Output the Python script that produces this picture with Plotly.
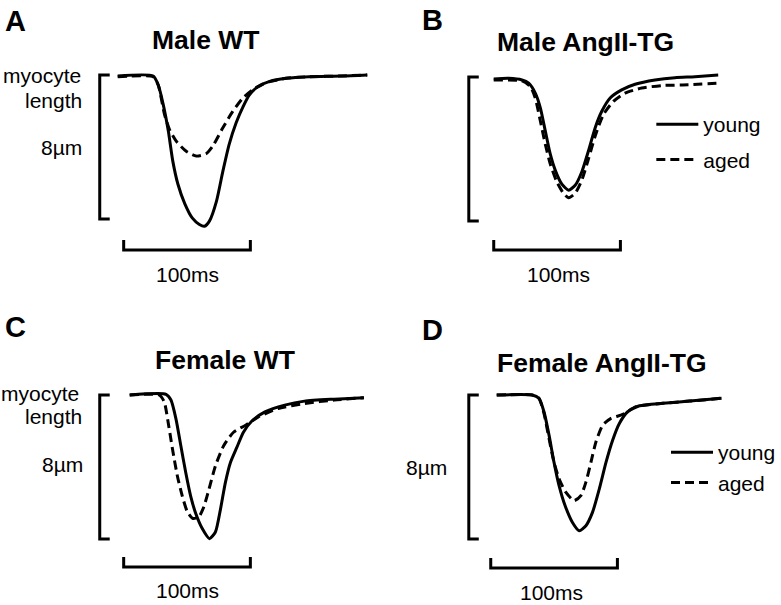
import plotly.graph_objects as go

W, H = 781, 605

# ---------------- data: time (ms from trace start), length change (µm) ----------------
a_young_t = [0, 28, 32, 36, 40, 43.5, 47.5, 53, 59, 64.5, 68.5, 72.5, 78, 83, 88, 93.5, 99, 104, 110.5, 120, 133, 151, 177, 197]
a_young_L = [0, 0, -0.5, -1.6, -3.07, -4.73, -6.0, -7.1, -7.9, -8.25, -8.35, -8.05, -6.95, -5.3, -3.8, -2.6, -1.7, -1.05, -0.6, -0.3, -0.13, -0.04, 0, 0.06]
a_aged_t = [0, 28, 32, 37, 40.9, 46.2, 54.1, 62, 69.8, 75, 82.9, 90.8, 98.7, 106.5, 114.4, 120, 133, 151, 177, 197]
a_aged_L = [-0.04, -0.04, -0.5, -2.15, -2.98, -3.62, -4.18, -4.45, -4.32, -3.9, -2.89, -1.97, -1.23, -0.77, -0.46, -0.31, -0.13, -0.04, 0, 0.06]

b_young_t = [0, 11.8, 22.3, 27.6, 32.8, 36.8, 40.7, 44.6, 48.6, 53.8, 59.1, 64.3, 69.5, 74.8, 80.1, 85.3, 91.9, 101, 111.6, 127.3, 143.1, 158.8, 177.2]
b_young_L = [-0.05, -0.02, -0.11, -0.29, -0.84, -1.66, -2.94, -4.22, -5.13, -5.9, -6.23, -5.96, -5.22, -4.04, -2.76, -1.85, -1.11, -0.66, -0.35, -0.11, 0.02, 0.07, 0.16]
b_aged_t = [0, 22.3, 29, 32.8, 36.8, 40.7, 44.6, 49.8, 55.1, 59.1, 64.3, 69.5, 74.8, 80.1, 86.6, 94.5, 103.7, 116.8, 132.6, 153.5, 177.2]
b_aged_L = [-0.11, -0.16, -0.48, -1.11, -2.39, -3.67, -4.77, -5.77, -6.41, -6.65, -6.41, -5.68, -4.49, -3.22, -2.03, -1.3, -0.84, -0.56, -0.42, -0.38, -0.29]

c_young_t = [0, 28.7, 32.6, 36.5, 40.4, 44.3, 48.2, 52.1, 57.3, 63, 67.7, 71.6, 75.5, 79.5, 84.6, 89.8, 96.3, 106.8, 122.4, 138, 161.5, 184.9]
c_young_L = [0, 0.04, -0.28, -1.31, -2.82, -4.32, -5.63, -6.57, -7.42, -7.98, -7.61, -6.38, -4.88, -3.76, -2.91, -2.07, -1.46, -0.94, -0.56, -0.34, -0.23, -0.15]
c_aged_t = [0, 23.4, 27.3, 29.9, 33.8, 37.7, 41.6, 45.5, 50, 54.7, 58.6, 62.5, 67.7, 74.2, 82, 91.2, 101.6, 117.2, 138, 161.5, 184.9]
c_aged_L = [0, 0, -0.38, -1.31, -3.0, -4.51, -5.63, -6.48, -6.86, -6.76, -6.2, -5.26, -3.94, -2.82, -2.07, -1.69, -1.22, -0.75, -0.47, -0.28, -0.15]

d_young_t = [0, 28, 33.3, 37.3, 41.3, 45.2, 49.2, 54, 59.8, 65.1, 70.4, 75.6, 81, 86.3, 91.5, 96.8, 103.4, 112.7, 131.2, 152.4, 177.5]
d_young_L = [0, 0, -0.18, -0.93, -2.23, -3.73, -5.03, -6.15, -7.08, -7.54, -7.26, -6.52, -5.21, -3.73, -2.51, -1.58, -0.93, -0.6, -0.46, -0.34, -0.18]
d_aged_t = [0, 28, 33.3, 37.3, 41.3, 45.2, 49.2, 54.5, 61.1, 66.4, 70.4, 74.4, 78.3, 83.6, 90.2, 99.4, 110, 131.2, 152.4, 177.5]
d_aged_L = [0, 0, -0.18, -1.02, -2.42, -3.73, -4.65, -5.4, -5.87, -5.59, -4.84, -3.73, -2.61, -1.68, -1.3, -1.08, -0.65, -0.46, -0.34, -0.18]

panel_letters = ["A", "B", "C", "D"]
panel_titles = ["Male WT", "Male AngII-TG", "Female WT", "Female AngII-TG"]
series_names = ["young", "aged"]
SCALE_MS = 100      # horizontal scale bar
SCALE_UM = 8        # vertical scale bar
time_label = "100ms"
len_label = "8µm"

# ---------------- layout geometry (pixels) ----------------
SX = 1.27   # px per ms
SY = 18.0   # px per µm
FONT = "Liberation Sans, Arial, Helvetica, sans-serif"
FS = 21     # label font size
FT = 26.5   # title font size

panels = [
    dict(px0=118, py0=76, vbx=100, vby=75, hbx=124, hby=250),
    dict(px0=495, py0=78, vbx=470, vby=77, hbx=495, hby=250),
    dict(px0=130, py0=395, vbx=100, vby=395, hbx=124, hby=567),
    dict(px0=498, py0=395, vbx=470, vby=395, hbx=492, hby=568),
]
data = [
    (a_young_t, a_young_L, a_aged_t, a_aged_L),
    (b_young_t, b_young_L, b_aged_t, b_aged_L),
    (c_young_t, c_young_L, c_aged_t, c_aged_L),
    (d_young_t, d_young_L, d_aged_t, d_aged_L),
]


def to_t(p, px):
    return (px - p["px0"]) / SX


def to_L(p, py):
    return (p["py0"] - py) / SY


fig = go.Figure()
shapes = []
annotations = []
legend_ids = [None, "legend", None, "legend2"]

for i, (p, d) in enumerate(zip(panels, data)):
    sfx = "" if i == 0 else str(i + 1)
    xa, ya = "x" + sfx, "y" + sfx
    yt, yL, at, aL = d
    leg = legend_ids[i]
    for name, tt, LL, dash in [(series_names[0], yt, yL, "solid"), (series_names[1], at, aL, "9px,5px")]:
        fig.add_trace(go.Scatter(
            x=tt, y=LL, xaxis=xa, yaxis=ya, mode="lines", name=name,
            line=dict(color="black", width=3, dash=dash, shape="spline", smoothing=0.6),
            showlegend=leg is not None, legend=leg if leg else "legend",
            legendgroup=f"{i}-{name}", hoverinfo="skip",
        ))
    ax = dict(domain=[0, 1], range=[to_t(p, 0), to_t(p, W)], visible=False, fixedrange=True, anchor=ya)
    ay = dict(domain=[0, 1], range=[to_L(p, H), to_L(p, 0)], visible=False, fixedrange=True, anchor=xa)
    fig.update_layout(**{"xaxis" + sfx: ax, "yaxis" + sfx: ay})

    # vertical scale bracket "["
    vx = to_t(p, p["vbx"])
    vtop = to_L(p, p["vby"])
    vbot = vtop - SCALE_UM
    tick_t = 10 / SX
    shapes.append(dict(type="path", xref=xa, yref=ya,
                       path=f"M {vx + tick_t},{vtop} L {vx},{vtop} L {vx},{vbot} L {vx + tick_t},{vbot}",
                       line=dict(color="black", width=3)))
    # horizontal scale bar
    hx0 = to_t(p, p["hbx"])
    hx1 = hx0 + SCALE_MS
    hy = to_L(p, p["hby"])
    tick_L = 10 / SY
    shapes.append(dict(type="path", xref=xa, yref=ya,
                       path=f"M {hx0},{hy + tick_L} L {hx0},{hy} L {hx1},{hy} L {hx1},{hy + tick_L}",
                       line=dict(color="black", width=3)))


def ann(text, px, py, size=FS, xanchor="center", bold=False):
    annotations.append(dict(text=text, x=px / W, y=1 - py / H, xref="paper", yref="paper",
                            xanchor=xanchor, yanchor="middle", showarrow=False,
                            font=dict(family=FONT, size=size, color="black", weight=700 if bold else 400)))


# panel letters
ann(panel_letters[0], 3, 21, 29, "left", True)
ann(panel_letters[1], 421, 20, 29, "left", True)
ann(panel_letters[2], 3, 327, 29, "left", True)
ann(panel_letters[3], 421, 330, 29, "left", True)
# titles
ann(panel_titles[0], 206, 40, FT, bold=True)
ann(panel_titles[1], 587, 42, FT, bold=True)
ann(panel_titles[2], 226, 360, FT, bold=True)
ann(panel_titles[3], 604, 363, FT, bold=True)
# y labels
ann("myocyte", 83, 75, FS, "right")
ann("length", 84, 100, FS, "right")
ann(len_label, 84, 148, FS, "right")
ann("myocyte", 81, 393, FS, "right")
ann("length", 84, 417, FS, "right")
ann(len_label, 85, 464, FS, "right")
ann(len_label, 450, 467, FS, "right")
# time labels
ann(time_label, 188, 274)
ann(time_label, 560, 274)
ann(time_label, 188, 590)
ann(time_label, 553, 592)

legend_common = dict(xanchor="left", yanchor="top", bgcolor="rgba(0,0,0,0)",
                     font=dict(family=FONT, size=FS, color="black"),
                     itemwidth=42, traceorder="grouped")
fig.update_layout(
    width=W, height=H, margin=dict(l=0, r=0, t=0, b=0),
    paper_bgcolor="white", plot_bgcolor="rgba(0,0,0,0)",
    shapes=shapes, annotations=annotations,
    legend=dict(x=653 / W, y=1 - 104 / H, tracegroupgap=5, **legend_common),
    legend2=dict(x=668 / W, y=1 - 432 / H, tracegroupgap=0, **legend_common),
    font=dict(family=FONT),
)

fig.write_html("out.html", config={"displayModeBar": False},
               post_script="document.body.style.margin='0';document.body.style.overflow='hidden';")
